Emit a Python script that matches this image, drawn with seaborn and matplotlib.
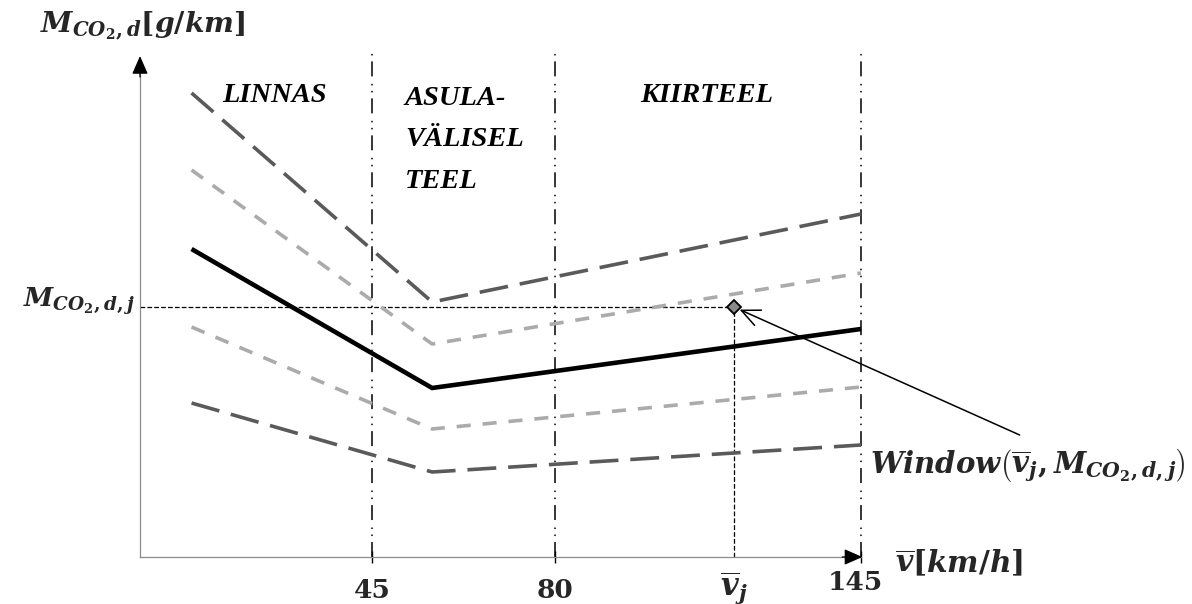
import numpy as np
import matplotlib
matplotlib.use("Agg")
import matplotlib.pyplot as plt
import seaborn as sns

# --- data -------------------------------------------------------------
speed_kmh = [10, 56.5, 145]                 # average speed at curve knots
co2_upper_outer = [232, 127.5, 171.5]       # g/km
co2_upper_inner = [193.5, 106.5, 142]
co2_mean = [154, 84.5, 114]
co2_lower_inner = [115, 64, 85]
co2_lower_outer = [77, 42.5, 56]

zone_bounds = [45, 80, 145]
zone_names = ["LINNAS", "ASULA-\nVÄLISEL\nTEEL", "KIIRTEEL"]
tick_labels = ["45", "80", ""]

v_j = 118     # km/h
m_j = 125     # g/km

# --- style ------------------------------------------------------------
sns.set_theme(style="white")
plt.rcParams.update({
    "mathtext.fontset": "custom",
    "mathtext.it": "DejaVu Serif:italic:bold",
    "mathtext.rm": "DejaVu Serif:bold",
    "mathtext.bf": "DejaVu Serif:bold",
    "mathtext.default": "it",
})
plt.rcParams["font.family"] = ["DejaVu Serif", "DejaVu Sans"]

DARK = "#5a5a5a"
LIGHT = "#ababab"

# speed axis is drawn schematically: piecewise-linear between the zone limits
_KV = np.array([0.0, 45.0, 80.0, 145.0])
_KP = np.array([140.0, 372.0, 555.0, 861.0])


def _piecewise(x, xs, ys):
    x = np.asarray(x, dtype=float)
    lo = ys[0] + (x - xs[0]) * (ys[1] - ys[0]) / (xs[1] - xs[0])
    hi = ys[-1] + (x - xs[-1]) * (ys[-1] - ys[-2]) / (xs[-1] - xs[-2])
    return np.where(x < xs[0], lo, np.where(x > xs[-1], hi, np.interp(x, xs, ys)))


def speed_fwd(v):
    return _piecewise(v, _KV, _KP)


def speed_inv(p):
    return _piecewise(p, _KP, _KV)


fig = plt.figure(figsize=(11.92, 6.04), dpi=100)
ax = fig.add_axes([0, 0, 1, 1])
ax.set_xscale("function", functions=(speed_fwd, speed_inv))
ax.set_xlim(float(speed_inv(0)), float(speed_inv(1192)))
ax.set_ylim(-23.5, 278.5)

# axes through the origin
for side in ("top", "right"):
    ax.spines[side].set_visible(False)
ax.spines["left"].set_position(("data", 0))
ax.spines["bottom"].set_position(("data", 0))
ax.spines["left"].set_bounds(0, 249)
ax.spines["bottom"].set_bounds(0, 145)
for side in ("left", "bottom"):
    ax.spines[side].set_color("#8c8c8c")
    ax.spines[side].set_linewidth(0.9)

ax.set_yticks([])
ax.set_xticks(zone_bounds, labels=tick_labels,
              fontfamily="DejaVu Serif", fontweight="bold", fontsize=19)
ax.tick_params(axis="x", bottom=True, direction="inout", length=8,
               width=1.0, color="black", pad=11)

# arrow heads on both axes
head = dict(arrowstyle="-|>,head_length=0.8,head_width=0.35",
            color="black", lw=0.9, shrinkA=0, shrinkB=0, mutation_scale=14)
ax.annotate("", xy=(0, 250.5), xytext=(0, 240), arrowprops=head,
            annotation_clip=False)
ax.annotate("", xy=(145.3, 0), xytext=(141, 0), arrowprops=head,
            annotation_clip=False)

# zone limits
for b in zone_bounds:
    ax.plot([b, b], [0, 252.5], color="black", lw=1.1,
            linestyle=(0, (9.8, 3.9, 1.0, 3.6, 1.0, 4.9)), zorder=1)

# emission curves
series = [
    (co2_upper_outer, DARK, (0, (8.0, 3.3))),
    (co2_upper_inner, LIGHT, (0, (3.9, 3.3))),
    (co2_lower_inner, LIGHT, (0, (3.9, 3.3))),
    (co2_lower_outer, DARK, (0, (8.0, 3.3))),
]
for vals, col, ls in series:
    sns.lineplot(x=speed_kmh, y=vals, ax=ax, color=col, lw=2.6,
                 linestyle=ls, zorder=3)
sns.lineplot(x=speed_kmh, y=co2_mean, ax=ax, color="black", lw=3.3,
             solid_capstyle="butt", solid_joinstyle="miter", zorder=4)

# operating point
ax.plot([0, v_j], [m_j, m_j], color="black", lw=0.9,
        linestyle=(0, (3.8, 1.7)), zorder=2)
ax.plot([v_j, v_j], [0, m_j], color="black", lw=0.9,
        linestyle=(0, (3.8, 1.7)), zorder=2)
ax.plot([v_j], [m_j], marker="D", ms=7, mfc="#8a8a8a", mec="black",
        mew=1.3, zorder=6)

ax.annotate("", xy=(v_j, m_j), xytext=(178.7, 61),
            arrowprops=dict(arrowstyle="->,head_length=0.55,head_width=0.25",
                            color="black", lw=1.1, shrinkA=0, shrinkB=4.5,
                            mutation_scale=24),
            annotation_clip=False, zorder=7)

# texts
zone_font = dict(family="Liberation Serif", weight="bold", style="italic",
                 size=20.5, color="black")
ax.text(16, 227.5, zone_names[0], ha="left", va="baseline", **zone_font)
ax.text(51.3, 235.5, zone_names[1], ha="left", va="top", linespacing=1.86,
        **zone_font)
ax.text(98, 227.5, zone_names[2], ha="left", va="baseline", **zone_font)

ax.text(-19.4, 262.5, r"$M_{CO_2,d}[g/km]$", ha="left", va="baseline",
        fontsize=20.3)
ax.text(-1.0, m_j, r"$M_{CO_2,d,j}$", ha="right", va="baseline",
        fontsize=19)
ax.text(143.7, -6.5, "145", ha="center", va="top", fontsize=19,
        fontweight="bold")
ax.text(v_j, -6.0, r"$\overline{v}_j$", ha="center", va="top", fontsize=22)
ax.text(152.2, -7.5, r"$\overline{v}[km/h]$", ha="left", va="baseline",
        fontsize=21.4)
ax.text(147.0, 45.5, r"$Window\left(\overline{v}_j,M_{CO_2,d,j}\right)$",
        ha="left", va="center", fontsize=21)

fig.savefig("out.png", dpi=100, facecolor="white")
